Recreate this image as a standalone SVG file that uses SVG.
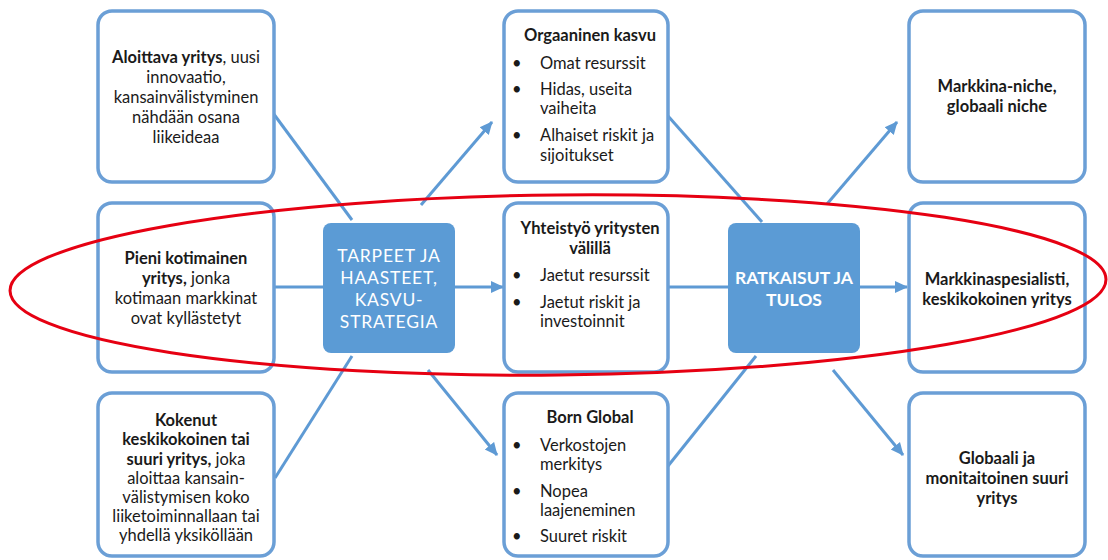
<svg xmlns="http://www.w3.org/2000/svg" width="1108" height="560" viewBox="0 0 1108 560">
  <style>
    .box { fill: #ffffff; stroke: #6b9fd6; stroke-width: 3.5; }
    .hub { fill: #5b9bd5; stroke: none; }
    .t { font-family: Lato, "Liberation Sans", sans-serif; font-size: 16.5px; fill: #1a1a1a; }
    .c { text-anchor: middle; }
    .b { font-weight: bold; }
    .w { fill: #ffffff; font-size: 17.5px; }
    .wl { letter-spacing: 0.8px; }
    .ln { stroke: #5e9ad4; stroke-width: 3; fill: none; }
    .ring { fill: none; stroke: #e60012; stroke-width: 3; }
  </style>
  <defs>
    <marker id="arrow" markerUnits="userSpaceOnUse" markerWidth="14" markerHeight="14" viewBox="0 0 14 14" refX="12" refY="7" orient="auto">
      <path d="M0,1 L13,7 L0,13 Z" fill="#5e9ad4"/>
    </marker>
  </defs>
  <rect width="1108" height="560" fill="#ffffff"/>

  <!-- connectors -->
  <g id="connectors">
    <line class="ln" x1="273" y1="113" x2="352" y2="220"/>
    <line class="ln" x1="274" y1="287" x2="323" y2="287"/>
    <line class="ln" x1="275" y1="478" x2="352" y2="356"/>
    <line class="ln" x1="421" y1="205" x2="492" y2="122" marker-end="url(#arrow)"/>
    <line class="ln" x1="455" y1="287" x2="503" y2="287" marker-end="url(#arrow)"/>
    <line class="ln" x1="428" y1="370" x2="497" y2="455" marker-end="url(#arrow)"/>
    <line class="ln" x1="668" y1="116" x2="762" y2="222"/>
    <line class="ln" x1="668" y1="287" x2="728" y2="287"/>
    <line class="ln" x1="668" y1="466" x2="756" y2="356"/>
    <line class="ln" x1="827" y1="204" x2="897" y2="122" marker-end="url(#arrow)"/>
    <line class="ln" x1="860" y1="287" x2="907" y2="287" marker-end="url(#arrow)"/>
    <line class="ln" x1="833" y1="370" x2="903" y2="455" marker-end="url(#arrow)"/>
  </g>

  <!-- starting points -->
  <g id="start-new">
    <rect class="box" x="98" y="11" width="176" height="171" rx="14"/>
    <text class="t c"><tspan x="186" y="63"><tspan class="b">Aloittava yritys</tspan>, uusi</tspan><tspan x="186" y="83">innovaatio,</tspan><tspan x="186" y="103">kansainvälistyminen</tspan><tspan x="186" y="123">nähdään osana</tspan><tspan x="186" y="143">liikeideaa</tspan></text>
  </g>
  <g id="start-small">
    <rect class="box" x="98" y="203" width="176" height="169" rx="14"/>
    <text class="t c"><tspan x="186" y="264" class="b">Pieni kotimainen</tspan><tspan x="186" y="284"><tspan class="b">yritys,</tspan> jonka</tspan><tspan x="186" y="304">kotimaan markkinat</tspan><tspan x="186" y="324">ovat kyllästetyt</tspan></text>
  </g>
  <g id="start-large">
    <rect class="box" x="98" y="393" width="176" height="163" rx="14"/>
    <text class="t c"><tspan x="186" y="426" class="b">Kokenut</tspan><tspan x="186" y="445" class="b">keskikokoinen tai</tspan><tspan x="186" y="465"><tspan class="b">suuri yritys,</tspan> joka</tspan><tspan x="186" y="484">aloittaa kansain-</tspan><tspan x="186" y="503">välistymisen koko</tspan><tspan x="186" y="522">liiketoiminnallaan tai</tspan><tspan x="186" y="541">yhdellä yksiköllään</tspan></text>
  </g>

  <!-- hubs -->
  <g id="hub-needs">
    <rect class="hub" x="323" y="223" width="132" height="130" rx="8"/>
    <text class="t c w wl"><tspan x="389" y="262">TARPEET  JA</tspan><tspan x="389" y="284">HAASTEET,</tspan><tspan x="389" y="306">KASVU-</tspan><tspan x="389" y="328">STRATEGIA</tspan></text>
  </g>
  <g id="hub-results">
    <rect class="hub" x="728" y="223" width="132" height="130" rx="8"/>
    <text class="t c w b"><tspan x="794" y="284">RATKAISUT  JA</tspan><tspan x="794" y="306">TULOS</tspan></text>
  </g>

  <!-- growth strategies -->
  <g id="path-organic">
    <rect class="box" x="504" y="11" width="164" height="171" rx="14"/>
    <text class="t c b" x="590" y="41">Orgaaninen kasvu</text>
    <text class="t"><tspan x="512" y="69">•</tspan><tspan x="540" y="69">Omat resurssit</tspan><tspan x="512" y="95">•</tspan><tspan x="540" y="95">Hidas, useita</tspan><tspan x="540" y="114">vaiheita</tspan><tspan x="512" y="141">•</tspan><tspan x="540" y="141">Alhaiset riskit ja</tspan><tspan x="540" y="161">sijoitukset</tspan></text>
  </g>
  <g id="path-cooperation">
    <rect class="box" x="504" y="203" width="164" height="169" rx="14"/>
    <text class="t c b"><tspan x="590" y="234">Yhteistyö yritysten</tspan><tspan x="590" y="254">välillä</tspan></text>
    <text class="t"><tspan x="512" y="281">•</tspan><tspan x="540" y="281">Jaetut resurssit</tspan><tspan x="512" y="308">•</tspan><tspan x="540" y="308">Jaetut riskit ja</tspan><tspan x="540" y="327">investoinnit</tspan></text>
  </g>
  <g id="path-born-global">
    <rect class="box" x="504" y="393" width="164" height="163" rx="14"/>
    <text class="t c b" x="590" y="423">Born Global</text>
    <text class="t"><tspan x="512" y="451">•</tspan><tspan x="540" y="451">Verkostojen</tspan><tspan x="540" y="470">merkitys</tspan><tspan x="512" y="497">•</tspan><tspan x="540" y="497">Nopea</tspan><tspan x="540" y="516">laajeneminen</tspan><tspan x="512" y="542">•</tspan><tspan x="540" y="542">Suuret riskit</tspan></text>
  </g>

  <!-- outcomes -->
  <g id="result-niche">
    <rect class="box" x="909" y="11" width="176" height="171" rx="14"/>
    <text class="t c b"><tspan x="997" y="92">Markkina-niche,</tspan><tspan x="997" y="112">globaali niche</tspan></text>
  </g>
  <g id="result-specialist">
    <rect class="box" x="909" y="203" width="176" height="169" rx="14"/>
    <text class="t c b"><tspan x="997" y="285">Markkinaspesialisti,</tspan><tspan x="997" y="305">keskikokoinen yritys</tspan></text>
  </g>
  <g id="result-global">
    <rect class="box" x="909" y="393" width="176" height="163" rx="14"/>
    <text class="t c b"><tspan x="997" y="464">Globaali ja</tspan><tspan x="997" y="484">monitaitoinen suuri</tspan><tspan x="997" y="504">yritys</tspan></text>
  </g>

  <!-- highlight ring around the middle row -->
  <ellipse class="ring" cx="558" cy="285" rx="548" ry="90" transform="rotate(-0.6 558 285)"/>
</svg>
